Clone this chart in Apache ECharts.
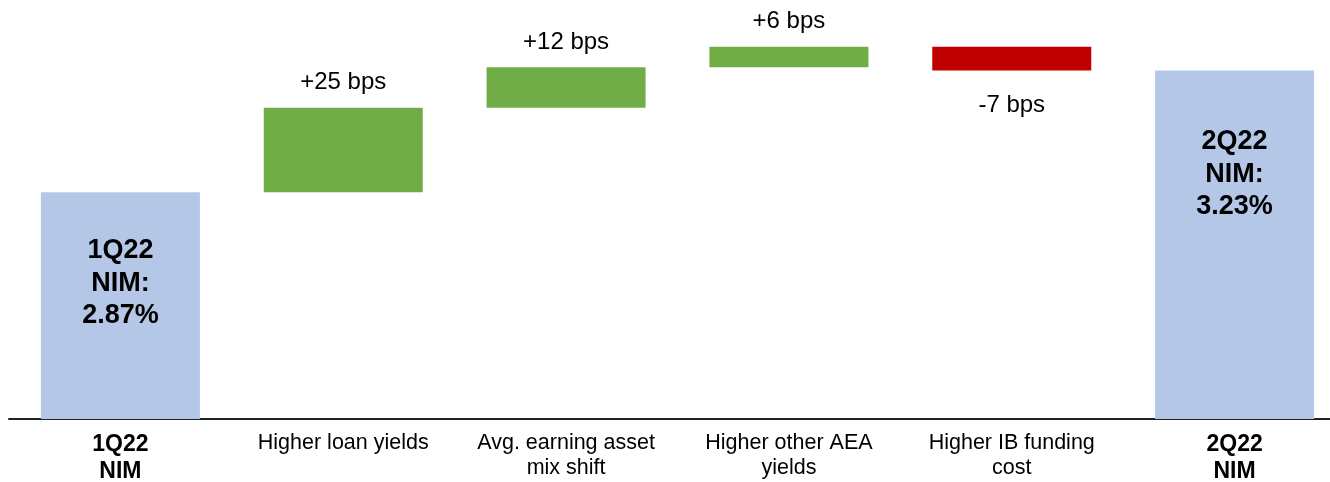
<!DOCTYPE html>
<html>
<head>
<meta charset="utf-8">
<script src="https://cdn.jsdelivr.net/npm/echarts@6/dist/echarts.min.js"></script>
<style>
  html, body { margin: 0; padding: 0; background: #ffffff; }
  #chart { width: 1330px; height: 482px; }
</style>
</head>
<body>
<div id="chart"></div>
<script>
// Net interest margin bridge, 1Q22 -> 2Q22
const categories = ['1Q22\nNIM', 'Higher loan yields', 'Avg. earning asset\nmix shift', 'Higher other AEA\nyields', 'Higher IB funding\ncost', '2Q22\nNIM'];
const startNim = 2.87;          // %
const changesBps = [25, 12, 6, -7];
const endNim = 3.23;            // %
const totalTitles = ['1Q22', '2Q22'];

const FONT = '"Liberation Sans", Arial, sans-serif';
const GREEN = '#70AD47', RED = '#C00000', BLUE = '#B4C7E7';

// Build stacked waterfall pieces: invisible base + visible step
const baseData = [null];
const stepData = [null];
let level = startNim;
changesBps.forEach(function (bps) {
  const d = bps / 100;
  const next = +(level + d).toFixed(4);
  const low = Math.min(level, next);
  const up = bps >= 0;
  baseData.push(+low.toFixed(4));
  stepData.push({
    value: Math.abs(d),
    itemStyle: { color: up ? GREEN : RED },
    label: {
      show: true,
      position: up ? 'top' : 'bottom',
      distance: up ? 13 : 23,
      formatter: (up ? '+' : '') + bps + ' bps',
      fontFamily: FONT, fontSize: 24, color: '#000'
    }
  });
  level = next;
});
baseData.push(null);
stepData.push(null);

const totalLabelTop = [42, 55];
function totalItem(v, i) {
  return {
    value: v,
    label: {
      show: true,
      position: ['50%', totalLabelTop[i]],
      align: 'center',
      verticalAlign: 'top',
      formatter: totalTitles[i] + '\nNIM:\n' + v.toFixed(2) + '%',
      fontFamily: FONT, fontSize: 27, fontWeight: 'bold', lineHeight: 32.5, color: '#000'
    }
  };
}
const totalData = [totalItem(startNim, 0), null, null, null, null, totalItem(endNim, 1)];

const chart = echarts.init(document.getElementById('chart'), null, { renderer: 'canvas' });
chart.setOption({
  animation: false,
  backgroundColor: '#ffffff',
  grid: { left: 9, width: 1337, top: 13, height: 406, outerBoundsMode: 'none', containLabel: false },
  xAxis: {
    type: 'category',
    data: categories,
    axisLine: { show: true, lineStyle: { color: '#222', width: 2 } },
    axisTick: { show: false },
    axisLabel: {
      interval: 0,
      margin: 12,
      fontFamily: FONT,
      fontSize: 21.5,
      lineHeight: 25,
      color: '#000',
      formatter: function (v, idx) {
        if (idx === 0 || idx === categories.length - 1) {
          return '{b|' + v + '}';
        }
        return v;
      },
      rich: {
        b: { fontFamily: FONT, fontSize: 23, fontWeight: 'bold', lineHeight: 27, color: '#000' }
      }
    }
  },
  yAxis: {
    type: 'value',
    min: 2.2,
    max: 3.4,
    show: false,
    splitLine: { show: false }
  },
  series: [
    {
      name: 'base', type: 'bar', stack: 'w', barWidth: 159,
      itemStyle: { color: 'transparent' },
      emphasis: { disabled: true },
      data: baseData
    },
    {
      name: 'step', type: 'bar', stack: 'w', barWidth: 159,
      data: stepData
    },
    {
      name: 'total', type: 'bar', stack: 'w', barWidth: 159,
      itemStyle: { color: BLUE },
      data: totalData
    }
  ]
});
</script>
</body>
</html>
